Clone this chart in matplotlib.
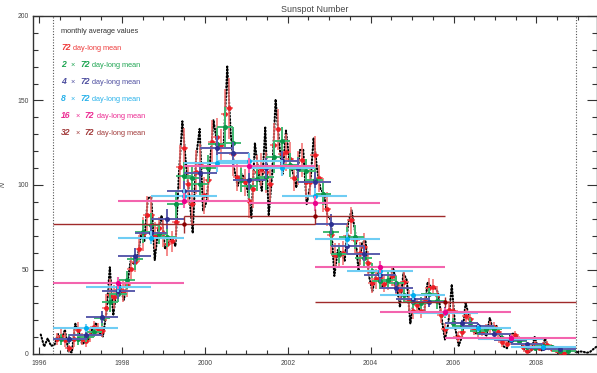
import numpy as np
import matplotlib
matplotlib.use('Agg')
import matplotlib.pyplot as plt
from matplotlib.ticker import MultipleLocator

plt.rcParams['font.family'] = ['Liberation Sans', 'DejaVu Sans']

# ---------------- data ----------------
# monthly sunspot values, Jan 1996 .. Jun 2009
month_start = 1996
monthly_values = [
    11.5, 4.4, 9.2, 4.8, 5.5, 11.8, 8.2, 14.4, 1.6, 0.9, 17.9, 13.3,
    5.7, 7.6, 8.7, 15.5, 18.5, 12.7, 10.4, 24.4, 51.3, 22.8, 39.0, 41.2,
    31.9, 40.3, 54.8, 53.4, 56.3, 70.7, 66.6, 92.2, 92.9, 55.5, 74.0, 81.9,
    62.0, 66.3, 68.8, 63.7, 106.4, 137.7, 113.5, 93.7, 71.5, 116.7, 133.2, 84.6,
    90.1, 112.9, 138.5, 125.5, 121.6, 124.9, 170.1, 130.5, 109.7, 99.4, 106.8, 104.4,
    95.6, 80.6, 125.0, 107.7, 96.6, 134.0, 81.8, 106.4, 150.7, 125.5, 106.5, 132.2,
    114.1, 107.4, 98.4, 120.7, 120.8, 88.3, 99.6, 128.0, 109.6, 97.5, 95.0, 81.6,
    79.5, 46.2, 61.5, 60.0, 55.2, 77.4, 85.0, 72.7, 48.8, 65.6, 67.2, 46.5,
    37.3, 45.8, 49.1, 39.3, 41.5, 43.2, 51.1, 40.9, 27.7, 48.0, 43.5, 17.9,
    31.3, 29.2, 24.5, 24.4, 42.6, 39.6, 39.9, 36.4, 22.1, 8.5, 18.0, 41.2,
    15.3, 4.9, 10.6, 30.2, 22.3, 13.9, 12.2, 12.9, 14.4, 10.5, 21.4, 13.6,
    16.8, 10.7, 4.5, 3.4, 11.7, 12.1, 9.7, 6.0, 2.4, 0.9, 1.7, 10.1,
    3.3, 2.1, 9.3, 2.9, 2.9, 3.1, 0.5, 0.5, 1.1, 2.9, 4.1, 0.8,
    1.5, 1.4, 0.7, 1.2, 2.9, 4.5,
]

# averaging windows: start of analysed interval, base window length in days
interval_start = 1996.34
base_days = 72

# 72 day-long means (half-overlapping windows)
red_means = [
    8.7, 10.9, 8.5, 3.3, 9.0, 14.1, 8.8, 7.4, 11.1, 15.8, 15.0, 13.9,
    27.3, 35.2, 33.9, 38.0, 37.0, 40.7, 50.4, 54.6, 62.4, 70.8, 82.3, 82.2,
    70.2, 74.3, 71.5, 64.8, 66.6, 78.2, 110.4, 121.8, 100.4, 88.6, 107.6, 112.0,
    94.0, 103.2, 125.5, 128.6, 123.4, 142.0, 145.3, 118.4, 104.5, 103.7, 101.5, 90.5,
    97.6, 107.9, 109.2, 107.4, 100.5, 123.5, 132.9, 118.6, 119.3, 115.2, 104.4, 110.2,
    114.8, 101.5, 102.0, 118.0, 104.0, 94.3, 85.8, 70.2, 58.6, 58.6, 59.6, 69.7,
    79.2, 67.7, 59.5, 63.4, 54.1, 42.3, 44.3, 44.7, 41.5, 43.0, 46.0, 40.6,
    37.6, 42.7, 32.1, 25.4, 28.8, 25.7, 31.2, 38.9, 39.4, 35.0, 22.9, 14.9,
    26.2, 25.7, 10.3, 13.0, 22.4, 20.6, 14.1, 12.8, 13.0, 14.6, 16.1, 16.1,
    13.0, 6.9, 5.7, 9.6, 11.1, 8.1, 4.0, 1.6, 3.7, 5.8, 3.8, 5.3,
    5.6, 2.9, 2.2, 1.0, 0.8, 2.2, 3.0,
]
red_errs = [
    3.5, 4, 4.5, 2, 5, 5, 3.5, 3, 4, 4, 3.5, 4,
    8, 9, 7, 7, 6, 7, 7, 6, 8, 10, 11, 11,
    8, 7, 8, 7, 6, 11, 13, 12, 11, 12, 13, 12,
    11, 12, 13, 11, 10, 15, 18, 13, 8, 8, 8, 10,
    11, 10, 10, 12, 10, 13, 12, 11, 11, 10, 8, 10,
    10, 10, 8, 11, 8, 10, 10, 11, 7, 7, 7, 8,
    8, 8, 7, 8, 7, 6, 6, 6, 5, 5, 6, 6,
    5, 7, 6, 4.5, 4.5, 4.5, 5, 6, 5, 5, 4.5, 3.5,
    5, 5, 3, 3, 4.5, 4.5, 3, 2.5, 2.5, 3, 3.5, 3,
    3, 2.5, 1.5, 2.5, 2.5, 2.5, 1.5, 1, 1.5, 2, 1.2, 1.8,
    1.8, 1.2, 1, 0.6, 0.6, 1, 1.2,
]

# 2 x 72 day-long means
green_means = [
    8.6, 8.8, 8.9, 10.0, 13.1, 21.2, 30.6, 35.5, 43.7, 56.4,
    72.4, 76.3, 70.9, 69.1, 88.5, 105.4, 104.0, 100.8, 109.8, 124.5,
    134.4, 124.9, 103.0, 99.6, 103.4, 104.9, 116.7, 126.1, 111.9, 109.6,
    108.4, 103.0, 94.9, 72.2, 59.1, 69.4, 69.4, 56.8, 49.2, 42.9,
    43.8, 41.8, 34.9, 30.5, 30.0, 35.3, 31.2, 24.6, 18.3, 16.4,
    18.3, 13.6, 14.6, 14.6, 9.4, 8.4, 7.6, 3.9, 3.8, 4.7,
    3.9, 1.5, 1.9,
]
green_errs = [
    3, 3, 3.5, 3, 3, 4.5, 5.5, 5, 5.5, 6.5,
    7, 7, 6, 6, 8, 8, 8, 8, 8, 9.5,
    12, 9.5, 7, 7, 7, 8, 9.5, 8, 7, 7,
    7, 7, 7, 8, 5.5, 5.5, 7, 5.5, 4.5, 4.5,
    4.5, 4.5, 4.5, 3.5, 3.5, 3.5, 4.5, 3.5, 3, 3,
    3, 2.2, 2.2, 2.2, 1.8, 1.5, 1.5, 1.2, 0.9, 1.0,
    0.9, 0.6, 0.6,
]

# 4 x 72 day-long means
blue_means = [
    8.8, 11.0, 21.8, 37.2, 58.0, 71.6, 79.7, 96.3, 106.9, 122.1,
    118.7, 103.2, 110.1, 114.3, 110.1, 101.7, 77.0, 64.2, 59.3, 46.5,
    39.3, 32.4, 30.6, 24.7, 18.3, 16.4, 12.0, 8.5, 5.7, 3.8, 2.9,
]
blue_errs = [
    2, 2.5, 3.5, 4.5, 5, 5, 6, 6, 6, 7,
    7, 6, 6, 6, 6, 6, 6, 5, 4.5, 4,
    3.5, 3, 3, 3, 2, 2, 1.6, 1.3, 1, 0.8, 0.7,
]

# 8 x 72 day-long means
cyan_means = [15.3, 39.9, 68.9, 93.3, 112.8, 114.4, 110.1, 93.6,
              68.2, 49.3, 35.0, 24.4, 15.1, 8.8, 4.3]
cyan_errs = [2.5, 3.5, 4, 4.5, 5, 4.5, 4.5, 4.5, 4, 3.5, 3, 2.5, 2, 1.3, 0.9]

# 16 x 72 day-long means
pink_means = [42.1, 90.8, 111.5, 89.1, 51.6, 25.0, 9.7]
pink_errs = [3.5, 4.5, 4.5, 4.5, 3.5, 2.5, 1.5]

# 32 x 72 day-long means
darkred_means = [76.8, 81.5, 30.6]
darkred_errs = [5, 4.5, 3]

# ---------------- figure ----------------
fig = plt.figure(figsize=(5.97, 3.73), dpi=100)
ax = fig.add_axes([33 / 597, 1 - 354 / 373, 563.5 / 597, 338 / 373])

months = month_start + (np.arange(len(monthly_values)) + 0.5) / 12.0
ax.plot(months, monthly_values, color='black', lw=1.5,
        ls=(0, (0.5, 1.1)), dash_capstyle='round', zorder=2)

series = [
    (red_means, red_errs, 1, '#f26b6b', '#ed1c24', 1.1, 3.4),
    (green_means, green_errs, 2, '#3fb872', '#0a9648', 1.4, 3.6),
    (blue_means, blue_errs, 4, '#5a5cac', '#2e3192', 1.4, 3.6),
    (cyan_means, cyan_errs, 8, '#6fcdf4', '#00aeef', 1.5, 3.6),
    (pink_means, pink_errs, 16, '#f364ae', '#ec008c', 1.5, 3.8),
    (darkred_means, darkred_errs, 32, '#a02a2a', '#8b0000', 1.0, 3.2),
]
for z, (means, errs, mult, bar_c, cap_c, lw, ms) in enumerate(series):
    win = mult * base_days / 365.25
    xc = interval_start + win / 2.0 * (np.arange(len(means)) + 1)
    line, caps, bars = ax.errorbar(xc, means, xerr=win / 2.0, yerr=errs,
                                   fmt='o', ms=ms, mew=0, color=cap_c,
                                   ecolor=bar_c, elinewidth=lw,
                                   capsize=4.0, capthick=1.7, zorder=3 + z)
    for c in caps:
        c.set_color(cap_c)
        c.set_markeredgecolor(cap_c)

interval_end = interval_start + 64 * base_days / 365.25
for xv in (interval_start, interval_end):
    ax.axvline(xv, color='#555555', lw=0.8, ls=(0, (1, 1.5)), zorder=1)

ax.set_xlim(1995.855, 2009.45)
ax.set_ylim(0, 200)
ax.xaxis.set_major_locator(MultipleLocator(2))
ax.xaxis.set_minor_locator(MultipleLocator(0.5))
ax.yaxis.set_major_locator(MultipleLocator(50))
ax.yaxis.set_minor_locator(MultipleLocator(10))
ax.tick_params(axis='both', which='both', direction='in', top=True, right=True,
               colors='#333333', labelcolor='#444444', labelsize=4.9, width=0.8)
ax.tick_params(axis='x', which='major', length=5, pad=4)
ax.tick_params(axis='x', which='minor', length=2.8)
ax.tick_params(axis='y', which='major', length=7.2, pad=3)
ax.tick_params(axis='y', which='minor', length=3.6)
for s in ax.spines.values():
    s.set_color('#333333')
    s.set_linewidth(1.0)

ax.set_title('Sunspot Number', fontsize=6.4, color='#444444', pad=3)
ax.set_ylabel('N', fontsize=5, style='italic', color='#444444')
ax.yaxis.set_label_coords(-0.046, 0.5)

# ---------------- legend (coloured text) ----------------
lx = 0.05
ly0 = 0.944
dy = 0.0503
ax.text(lx, ly0, 'monthly average values', transform=ax.transAxes,
        fontsize=5.3, color='#333333', va='bottom', ha='left')
legend_rows = [
    (None, '#ee3b3b'),
    ('2', '#1ea552'),
    ('4', '#4e4fa0'),
    ('8', '#2ab2ea'),
    ('16', '#ec2a92'),
    ('32', '#a23c3c'),
]
numfont = dict(fontsize=6.2, fontweight='bold', fontstyle='italic')
for i, (mult, col) in enumerate(legend_rows):
    y = ly0 - (i + 1) * dy
    if mult is None:
        t = ax.text(lx, y, '72', transform=ax.transAxes, color=col,
                    va='bottom', ha='left', **numfont)
    else:
        t = ax.text(lx, y, mult, transform=ax.transAxes, color=col,
                    va='bottom', ha='left', **numfont)
        t = ax.annotate('\u00d7', xy=(1, 0), xycoords=t, xytext=(3.5, 0),
                        textcoords='offset points', color=col, fontsize=5.3,
                        va='bottom', ha='left')
        t = ax.annotate('72', xy=(1, 0), xycoords=t, xytext=(3.5, 0),
                        textcoords='offset points', color=col,
                        va='bottom', ha='left', **numfont)
    ax.annotate('day-long mean', xy=(1, 0), xycoords=t, xytext=(2.0, 0),
                textcoords='offset points', color=col, fontsize=5.3,
                va='bottom', ha='left')

fig.savefig('out.png', dpi=100)
